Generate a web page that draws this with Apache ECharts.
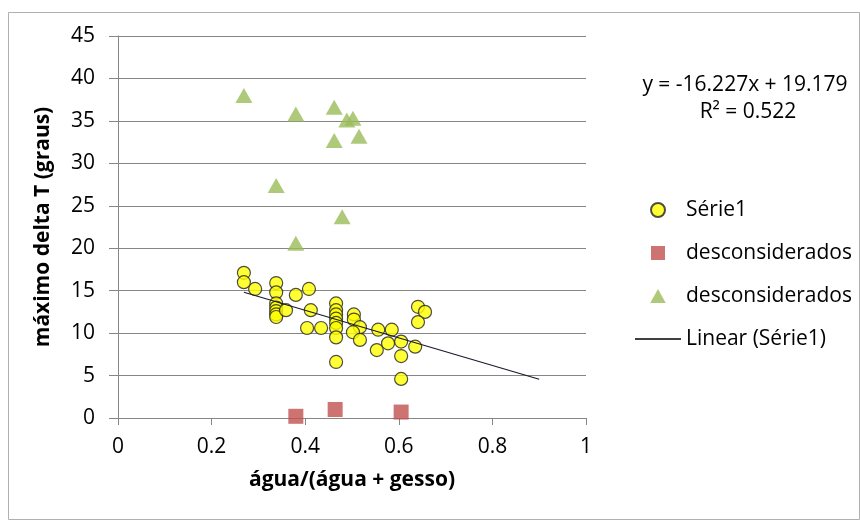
<!DOCTYPE html>
<html>
<head>
<meta charset="utf-8">
<script src="https://cdn.jsdelivr.net/npm/echarts@6/dist/echarts.min.js"></script>
<style>
html, body { margin: 0; padding: 0; background: #fff; }
#chart { width: 860px; height: 521px; }
</style>
</head>
<body>
<div id="chart"></div>
<script>
// água/(água + gesso) vs máximo delta T
var serie1 = [
    [0.269, 17.1], [0.269, 16.0], [0.293, 15.2], [0.338, 15.9], [0.338, 14.8],
    [0.338, 13.5], [0.338, 13.0], [0.338, 12.6], [0.338, 12.2], [0.338, 11.9],
    [0.359, 12.7], [0.380, 14.5], [0.408, 15.2], [0.412, 12.7], [0.404, 10.6],
    [0.434, 10.6], [0.466, 13.5], [0.466, 12.7], [0.466, 12.2], [0.466, 11.7],
    [0.466, 11.2], [0.466, 10.6], [0.466, 9.5], [0.466, 6.6], [0.504, 12.2],
    [0.504, 11.6], [0.517, 10.7], [0.502, 10.1], [0.517, 9.2], [0.556, 10.4],
    [0.585, 10.4], [0.577, 8.8], [0.605, 9.0], [0.553, 8.0], [0.605, 7.3],
    [0.635, 8.4], [0.641, 13.1], [0.656, 12.5], [0.641, 11.3], [0.605, 4.6]
];
var desconsQuad = [[0.380, 0.2], [0.464, 1.0], [0.605, 0.7]];
var desconsTri = [
    [0.269, 38.0], [0.380, 35.8], [0.462, 36.6], [0.489, 35.1], [0.502, 35.3],
    [0.462, 32.7], [0.515, 33.2], [0.338, 27.4], [0.479, 23.7], [0.380, 20.6]
];
var trendLine = [[0.269, 14.81], [0.9, 4.57]];
var equationText = 'y = -16.227x + 19.179';
var r2Text = 'R\u00b2 = 0.522';

var fonte = 'Open Sans, sans-serif';
var cinza = '#868686';

var myChart = echarts.init(document.getElementById('chart'));
myChart.setOption({
    animation: false,
    backgroundColor: '#fff',
    textStyle: { fontFamily: fonte },
    grid: { left: 118, right: 274, top: 36, bottom: 103 },
    legend: {
        orient: 'vertical',
        left: 630,
        top: 194,
        itemWidth: 46,
        itemHeight: 14,
        itemGap: 21,
        symbolKeepAspect: true,
        textStyle: { fontSize: 21, lineHeight: 22, color: '#000', fontFamily: fonte },
        data: [
            { name: 'Série1', icon: 'circle' },
            { name: 'desconsiderados', icon: 'path://M0,0L10,0L10,10L0,10Z' },
            { name: 'desconsiderados ', icon: 'path://M5,0L10,9L0,9Z' },
            { name: 'Linear (Série1)', icon: 'path://M0,0L46,0L46,1.3L0,1.3Z' }
        ]
    },
    graphic: [
        { type: 'rect', left: 6, top: 10, shape: { width: 851, height: 507 },
          style: { fill: 'none', stroke: '#b0b0b0', lineWidth: 1 }, silent: true },
        { type: 'text', x: 745, y: 85,
          style: { text: equationText, fontSize: 21, fontFamily: fonte, fill: '#000',
                   align: 'center', verticalAlign: 'middle' } },
        { type: 'text', x: 748, y: 112,
          style: { text: r2Text, fontSize: 21, fontFamily: fonte, fill: '#000',
                   align: 'center', verticalAlign: 'middle' } }
    ],
    xAxis: {
        type: 'value',
        min: 0, max: 1, interval: 0.2,
        name: 'água/(água + gesso)',
        nameLocation: 'middle',
        nameGap: 52,
        nameTextStyle: { fontSize: 21, fontWeight: 'bold', color: '#000' },
        axisLine: { show: true, lineStyle: { color: cinza } },
        axisTick: { show: true, length: 7, lineStyle: { color: cinza } },
        axisLabel: { fontSize: 21, color: '#000', margin: 19 },
        splitLine: { show: false }
    },
    yAxis: {
        type: 'value',
        min: 0, max: 45, interval: 5,
        name: 'máximo delta T (graus)',
        nameLocation: 'middle',
        nameGap: 64,
        nameTextStyle: { fontSize: 21, fontWeight: 'bold', color: '#000' },
        axisLine: { show: true, lineStyle: { color: cinza } },
        axisTick: { show: true, length: 9, lineStyle: { color: cinza } },
        axisLabel: { fontSize: 21, color: '#000', margin: 23 },
        splitLine: { show: true, lineStyle: { color: cinza, width: 1 } }
    },
    series: [
        {
            name: 'Série1',
            type: 'scatter',
            symbol: 'circle',
            symbolSize: 13,
            itemStyle: { color: '#ffff00', borderColor: '#222', borderWidth: 1.2 },
            data: serie1,
            z: 3
        },
        {
            name: 'desconsiderados',
            type: 'scatter',
            symbol: 'rect',
            symbolSize: 15,
            itemStyle: { color: '#c0504d' },
            data: desconsQuad
        },
        {
            name: 'desconsiderados ',
            type: 'scatter',
            symbol: 'triangle',
            symbolSize: [17, 15],
            itemStyle: { color: '#9bbb59' },
            data: desconsTri
        },
        {
            name: 'Linear (Série1)',
            type: 'line',
            symbol: 'none',
            lineStyle: { color: '#1a1a2e', width: 1.2 },
            itemStyle: { color: '#000' },
            data: trendLine,
            z: 4
        }
    ]
});

window.onresize = function () {
    myChart.resize();
}
</script>
</body>
</html>
